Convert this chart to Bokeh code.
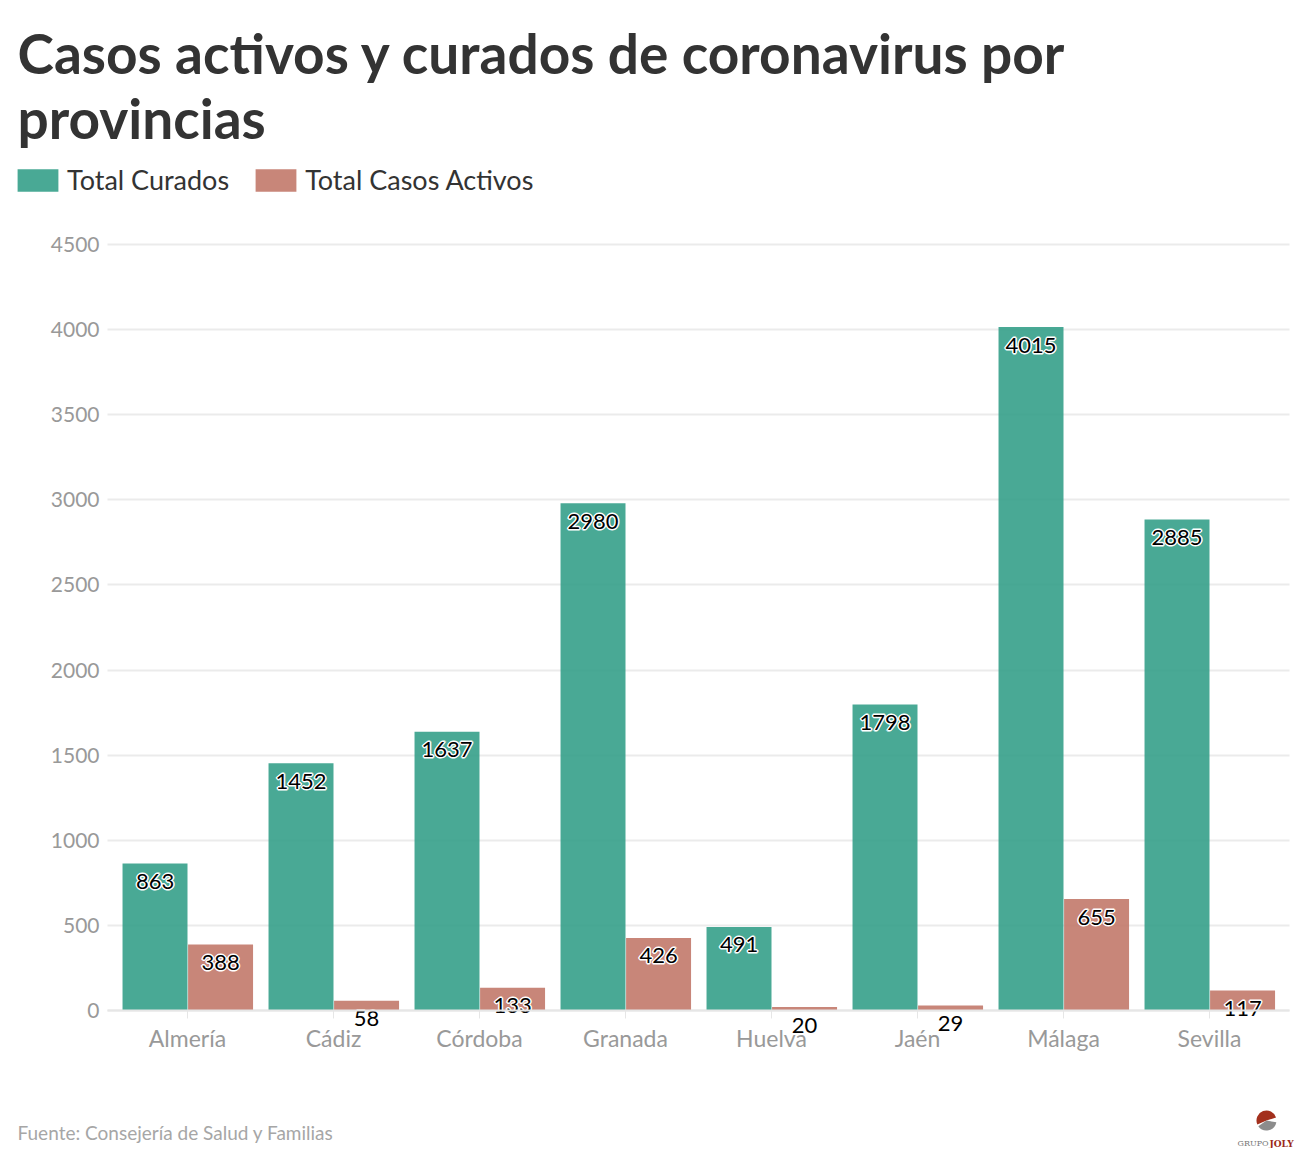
import numpy as np
from bokeh.plotting import figure
from bokeh.models import (Range1d, ColumnDataSource, Label, Legend, LegendItem,
                          FixedTicker, BoxAnnotation)
from bokeh.core.properties import value
from bokeh.embed import file_html
from bokeh.resources import INLINE

provincias = ["Almería", "Cádiz", "Córdoba", "Granada", "Huelva", "Jaén", "Málaga", "Sevilla"]
curados = [863, 1452, 1637, 2980, 491, 1798, 4015, 2885]
activos = [388, 58, 133, 426, 20, 29, 655, 117]
y_ticks = [0, 500, 1000, 1500, 2000, 2500, 3000, 3500, 4000, 4500]

title_l1 = "Casos activos y curados de coronavirus por"
title_l2 = "provincias"
serie_1 = "Total Curados"
serie_2 = "Total Casos Activos"
fuente = "Fuente: Consejería de Salud y Familias"

GREEN = "#35a08a"
RED = "#c2796a"
FONT = "Lato"
W, H = 1300, 1148

# page geometry of the plotting area (frame covers the whole canvas)
cat0_px, cat_step = 187, 146          # centre of first category, spacing (px)
zero_px, ppu = 1010, 0.17022          # y pixel of value 0, px per unit
plot_l, plot_r = 107, 1289            # visible plot area left / right (px)

def xpx(px):
    return (px - cat0_px) / cat_step

p = figure(width=W, height=H, output_backend="svg", toolbar_location=None,
           x_range=Range1d(xpx(0), xpx(W)),
           y_range=Range1d(-(H - zero_px) / ppu, zero_px / ppu),
           min_border=0, min_border_left=0, min_border_right=0,
           min_border_top=0, min_border_bottom=0)
p.outline_line_color = None
p.background_fill_color = "white"
p.border_fill_color = "white"

idx = np.arange(len(provincias))
bw = 0.445
src = ColumnDataSource(data=dict(
    x1=idx - bw / 2, x2=idx + bw / 2 + 0.004, curados=curados, activos=activos,
    cur_lbl=[str(v) for v in curados], act_lbl=[str(v) for v in activos],
))

r1 = p.vbar(x="x1", top="curados", width=bw, source=src, fill_color=GREEN, fill_alpha=0.9, line_color=None)
r2 = p.vbar(x="x2", top="activos", width=bw, source=src, fill_color=RED, fill_alpha=0.9, line_color=None)

base_kw = dict(text_font=value(FONT), text_font_size="22px", text_align="center",
               text_baseline="middle", source=src)
for xx, lbl, col in (("x1", "cur_lbl", "curados"), ("x2", "act_lbl", "activos")):
    for dx, dy in ((-1, 0), (1, 0), (0, -1), (0, 1)):
        p.text(x=xx, y=col, text=lbl, text_color="white", text_outline_color="white",
               x_offset=dx, y_offset=18 + dy, **base_kw)
    p.text(x=xx, y=col, text=lbl, text_color="black", y_offset=18, **base_kw)

# y axis (drawn inside the canvas-wide frame)
p.yaxis.fixed_location = xpx(plot_l)
p.yaxis.ticker = FixedTicker(ticks=y_ticks)
p.yaxis.axis_line_color = None
p.yaxis.major_tick_line_color = None
p.yaxis.minor_tick_line_color = None
p.yaxis.major_label_standoff = 2
p.yaxis.major_label_text_font = FONT
p.yaxis.major_label_text_font_size = "21px"
p.yaxis.major_label_text_color = "#999999"

# x axis at value 0
p.xaxis.fixed_location = 0
p.xaxis.bounds = (xpx(plot_l), xpx(plot_r))
p.xaxis.ticker = FixedTicker(ticks=list(idx))
p.xaxis.major_label_overrides = {int(i): n for i, n in zip(idx, provincias)}
p.xaxis.minor_tick_line_color = None
p.xaxis.axis_line_color = "#e6e6e6"
p.xaxis.axis_line_width = 2
p.xaxis.major_tick_line_color = "#e6e6e6"
p.xaxis.major_tick_in = 0
p.xaxis.major_tick_out = 8
p.xaxis.major_label_standoff = 5
p.xaxis.major_label_text_font = FONT
p.xaxis.major_label_text_font_size = "23px"
p.xaxis.major_label_text_color = "#999999"

p.xgrid.grid_line_color = None
p.ygrid.ticker = FixedTicker(ticks=y_ticks)
p.ygrid.grid_line_color = "#ebebeb"
p.ygrid.grid_line_width = 2
try:
    p.ygrid.cross_bounds = (xpx(plot_l), xpx(plot_r))
except Exception:
    # hide grid outside the plotting area
    for l, r in ((None, xpx(plot_l)), (xpx(plot_r), None)):
        p.add_layout(BoxAnnotation(left=l, right=r, fill_color="white", fill_alpha=1,
                                   line_color=None, level="underlay"))

# legend (legend swatches are inset by 10% of the glyph box)
legend = Legend(items=[LegendItem(label=serie_1, renderers=[r1]),
                       LegendItem(label=serie_2, renderers=[r2])],
                orientation="horizontal", location=(12, H - 196),
                glyph_width=51, glyph_height=28, label_standoff=4, spacing=21,
                padding=0, margin=0, border_line_color=None, background_fill_alpha=0,
                label_text_font=FONT, label_text_font_size="27px", label_text_color="#333333")
p.add_layout(legend)

# titles / footer (screen px from bottom-left of canvas)
for txt, base in ((title_l1, 52), (title_l2, 117)):
    p.add_layout(Label(x=17, y=H - base, x_units="screen", y_units="screen", text=txt,
                       text_font=FONT, text_font_style="bold", text_font_size="55px",
                       text_color="#333333", text_baseline="alphabetic"))
p.add_layout(Label(x=17, y=H - 1132, x_units="screen", y_units="screen", text=fuente,
                   text_font=FONT, text_font_size="19px", text_color="#a6a6a6",
                   text_baseline="middle"))

# logo
lx, ly = xpx(1266), -(1120 - zero_px) / ppu
p.wedge(x=[lx], y=[ly], radius=10, radius_units="screen", start_angle=[0.3], end_angle=[3.55],
        direction="anticlock", fill_color="#a3301d", line_color=None)
p.wedge(x=[lx], y=[ly], radius=10, radius_units="screen", start_angle=[3.75], end_angle=[6.1],
        direction="anticlock", fill_color="#8c8c8c", line_color=None)
p.add_layout(Label(x=1237, y=H - 1143, x_units="screen", y_units="screen", text="GRUPO",
                   text_font="DejaVu Serif", text_font_size="8px", text_color="#777777",
                   text_baseline="middle"))
p.add_layout(Label(x=1269, y=H - 1143, x_units="screen", y_units="screen", text="JOLY",
                   text_font="DejaVu Serif", text_font_style="bold", text_font_size="9px",
                   text_color="#9b2a1a", text_baseline="middle"))

open("out.html", "w").write(file_html(p, INLINE))
